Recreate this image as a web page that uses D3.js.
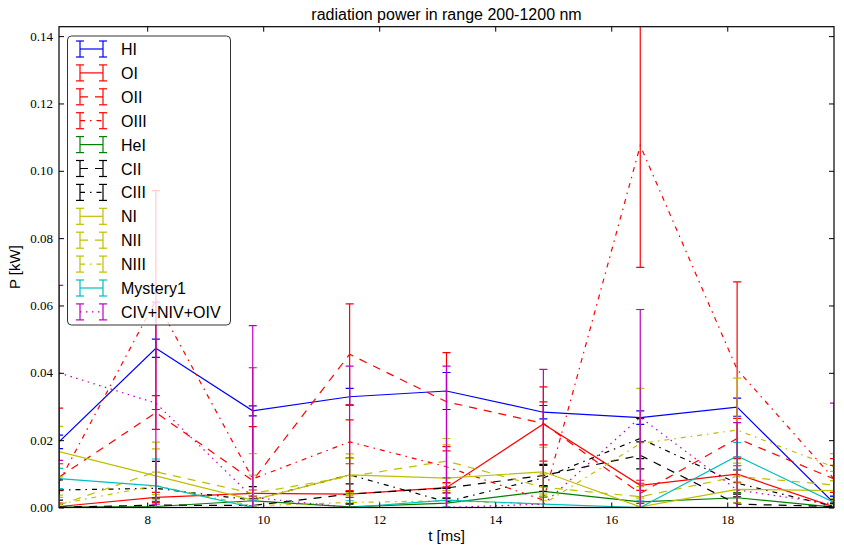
<!DOCTYPE html>
<html><head><meta charset="utf-8">
<script src="https://cdn.jsdelivr.net/npm/d3@7"></script>
<style>
body{margin:0;background:#fff;}
svg{display:block;}
</style></head><body>
<svg id="c" width="844" height="552"></svg>
<script>
// ---- data ----
const times = [6.48, 8.15, 9.82, 11.49, 13.16, 14.83, 16.5, 18.17, 19.84];
const seriesNames = ["HI","OI","OII","OIII","HeI","CII","CIII","NI","NII","NIII","Mystery1","CIV+NIV+OIV"];
const seriesColors = ["#0000ff","#ff0000","#ff0000","#ff0000","#008000","#000000","#000000","#bfbf00","#bfbf00","#bfbf00","#00bfbf","#bf00bf"];
const seriesDash = ["solid","solid","dashed","dashdot","solid","dashed","dashdot","solid","dashed","dashdot","solid","dotted"];

const HI       = [0.0195, 0.0473, 0.0287, 0.0329, 0.0346, 0.0283, 0.0267, 0.0298, 0.0013];
const HI_err   = [0.002, 0.0027, 0.0015, 0.0025, 0.0055, 0.002, 0.002, 0.0027, 0.002];
const OI       = [0.0003, 0.0030, 0.0042, 0.0040, 0.0059, 0.0248, 0.0066, 0.0099, 0.0002];
const OI_err   = [0.001, 0.0015, 0.001, 0.001, 0.0015, 0.011, 0.0015, 0.0025, 0.001];
const OII      = [0.0090, 0.0282, 0.0080, 0.0455, 0.0314, 0.0250, 0.0042, 0.0205, 0.0085];
const OII_err  = [0.004, 0.005, 0.016, 0.015, 0.0146, 0.0064, 0.003, 0.006, 0.004];
const OIII     = [0.0075, 0.0616, 0.0085, 0.0195, 0.0121, 0.0022, 0.1075, 0.0410, 0.0085];
const OIII_err = [0.022, 0.0325, 0.033, 0.0065, 0.006, 0.004, 0.0362, 0.026, 0.006];
const HeI      = [0.0001, 0.0003, 0.0020, 0.0002, 0.0013, 0.0048, 0.0017, 0.0029, 0.0001];
const HeI_err  = [0.001, 0.0015, 0.0015, 0.001, 0.0015, 0.0015, 0.0015, 0.0015, 0.001];
const CII      = [0.0001, 0.0007, 0.0006, 0.0040, 0.0058, 0.0095, 0.0155, 0.0010, 0.0003];
const CII_err  = [0.001, 0.002, 0.002, 0.003, 0.003, 0.003, 0.004, 0.003, 0.001];
const CIII     = [0.0052, 0.0057, 0.0022, 0.0097, 0.0017, 0.0088, 0.0205, 0.0072, 0.0003];
const CIII_err = [0.003, 0.008, 0.004, 0.005, 0.004, 0.004, 0.006, 0.004, 0.002];
const NI       = [0.0166, 0.0094, 0.0022, 0.0097, 0.0087, 0.0106, 0.0002, 0.0054, 0.0050];
const NI_err   = [0.0075, 0.010, 0.0138, 0.0062, 0.0099, 0.0073, 0.003, 0.004, 0.003];
const NII      = [0.0007, 0.0106, 0.0042, 0.0092, 0.0138, 0.0060, 0.0032, 0.0092, 0.0067];
const NII_err  = [0.003, 0.0068, 0.0054, 0.0054, 0.0067, 0.004, 0.003, 0.004, 0.004];
const NIII     = [0.0010, 0.0065, 0.0005, 0.0015, 0.0020, 0.0010, 0.0190, 0.0230, 0.0120];
const NIII_err = [0.002, 0.004, 0.003, 0.003, 0.003, 0.003, 0.0164, 0.0154, 0.004];
const Mystery1     = [0.0086, 0.0064, 0.0000, 0.0000, 0.0022, 0.0010, 0.0000, 0.0153, 0.0015];
const Mystery1_err = [0.003, 0.008, 0.002, 0.002, 0.002, 0.002, 0.002, 0.004, 0.002];
const CIV      = [0.0400, 0.0310, 0.0030, 0.0000, 0.0000, 0.0010, 0.0268, 0.0052, 0.0010];
const CIV_err  = [0.026, 0.030, 0.051, 0.042, 0.042, 0.040, 0.032, 0.020, 0.030];

const seriesValues = [HI, OI, OII, OIII, HeI, CII, CIII, NI, NII, NIII, Mystery1, CIV];
const seriesErrors = [HI_err, OI_err, OII_err, OIII_err, HeI_err, CII_err, CIII_err, NI_err, NII_err, NIII_err, Mystery1_err, CIV_err];

const xTicks = [8, 10, 12, 14, 16, 18];
const yTicks = [0, 0.02, 0.04, 0.06, 0.08, 0.10, 0.12, 0.14];
const yMax = 0.1428;

// ---- layout ----
const L = 59, R = 834, T = 26.7, B = 507.5;
const dashMap = {solid: null, dashed: "8,7", dashdot: "5,5,1.5,5", dotted: "1.5,4.5"};

const svg = d3.select("#c");
const x = d3.scaleLinear().domain([times[0], times[times.length-1]]).range([L, R]);
const y = d3.scaleLinear().domain([0, yMax]).range([B, T]);

svg.append("defs").append("clipPath").attr("id","clip")
  .append("rect").attr("x",L).attr("y",T).attr("width",R-L).attr("height",B-T);

const plot = svg.append("g").attr("clip-path","url(#clip)");
const line = d3.line().x((d,i)=>x(times[i])).y(d=>y(d));

seriesNames.forEach((name, si) => {
  const vals = seriesValues[si], errs = seriesErrors[si], col = seriesColors[si];
  const g = plot.append("g");
  g.append("path").datum(vals).attr("d", line)
    .attr("fill","none").attr("stroke", col).attr("stroke-width",1.2)
    .attr("stroke-dasharray", dashMap[seriesDash[si]]);
  vals.forEach((v, i) => {
    const xi = x(times[i]), y1 = y(v + errs[i]), y0 = y(v - errs[i]);
    g.append("line").attr("x1",xi).attr("x2",xi).attr("y1",y1).attr("y2",y0)
      .attr("stroke",col).attr("stroke-width",1.2);
    [y1, y0].forEach(yy => g.append("line").attr("x1",xi-4).attr("x2",xi+4)
      .attr("y1",yy).attr("y2",yy).attr("stroke",col).attr("stroke-width",1.2));
  });
});

// ---- axes ----
const tickFont = "'Liberation Serif', serif";
const ax = svg.append("g").attr("transform",`translate(0,${B})`)
  .call(d3.axisBottom(x).tickValues(xTicks).tickSize(-5).tickPadding(7).tickFormat(d3.format("d")));
const axT = svg.append("g").attr("transform",`translate(0,${T})`)
  .call(d3.axisTop(x).tickValues(xTicks).tickSize(-5).tickFormat(""));
const ay = svg.append("g").attr("transform",`translate(${L},0)`)
  .call(d3.axisLeft(y).tickValues(yTicks).tickSize(-5).tickPadding(6).tickFormat(d3.format(".2f")));
const ayR = svg.append("g").attr("transform",`translate(${R},0)`)
  .call(d3.axisRight(y).tickValues(yTicks).tickSize(-5).tickFormat(""));
[ax, axT, ay, ayR].forEach(a => {
  a.select(".domain").remove();
  a.selectAll(".tick line").attr("stroke","#000").attr("stroke-width",1);
  a.selectAll("text").attr("font-family",tickFont).attr("font-size",13).attr("fill","#000");
});
svg.append("rect").attr("x",L).attr("y",T).attr("width",R-L).attr("height",B-T)
  .attr("fill","none").attr("stroke","#000").attr("stroke-width",1.2);

// ---- labels ----
const sans = "'Liberation Sans', Arial, sans-serif";
svg.append("text").attr("x",(L+R)/2).attr("y",20).attr("text-anchor","middle")
  .attr("font-family",sans).attr("font-size",16).text("radiation power in range 200-1200 nm");
svg.append("text").attr("x",(L+R)/2).attr("y",541).attr("text-anchor","middle")
  .attr("font-family",sans).attr("font-size",15).text("t [ms]");
svg.append("text").attr("transform",`translate(20,${(T+B)/2}) rotate(-90)`).attr("text-anchor","middle")
  .attr("font-family",sans).attr("font-size",15).text("P [kW]");

// ---- legend ----
const lg = svg.append("g");
lg.append("rect").attr("x",67.5).attr("y",36).attr("width",163).attr("height",289).attr("rx",4)
  .attr("fill","#fff").attr("fill-opacity",0.8).attr("stroke","#333").attr("stroke-width",1);
seriesNames.forEach((name, si) => {
  const cy = 49 + si*23.9, col = seriesColors[si];
  const x0 = 80, x1 = 103;
  lg.append("line").attr("x1",x0).attr("x2",x1).attr("y1",cy).attr("y2",cy)
    .attr("stroke",col).attr("stroke-width",1.2).attr("stroke-dasharray", dashMap[seriesDash[si]]);
  [x0, x1].forEach(xx => {
    lg.append("line").attr("x1",xx).attr("x2",xx).attr("y1",cy-8).attr("y2",cy+8).attr("stroke",col).attr("stroke-width",1.2);
    [cy-8, cy+8].forEach(yy => lg.append("line").attr("x1",xx-4).attr("x2",xx+4).attr("y1",yy).attr("y2",yy)
      .attr("stroke",col).attr("stroke-width",1.2));
  });
  lg.append("text").attr("x",121).attr("y",cy+6).attr("font-family",sans).attr("font-size",16)
    .attr("fill","#000").text(name);
});
</script>
</body></html>
